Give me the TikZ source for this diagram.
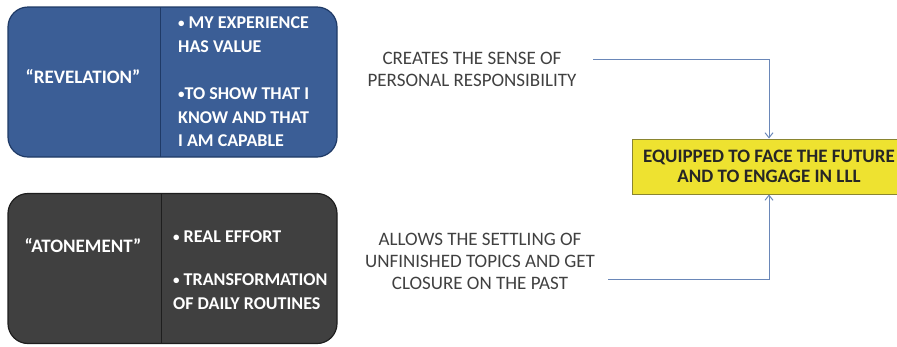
\documentclass[tikz,border=0pt]{standalone}
\usepackage{fontspec}
\setmainfont{Carlito}
\usetikzlibrary{arrows.meta}
\definecolor{boxblue}{HTML}{3B5E96}
\definecolor{boxblueedge}{HTML}{1F3A66}
\definecolor{boxdark}{HTML}{404040}
\definecolor{boxdarkedge}{HTML}{1E1E1E}
\definecolor{eqyellow}{HTML}{EEE230}
\definecolor{eqedge}{HTML}{8A8530}
\definecolor{linkblue}{HTML}{6A87B8}
\definecolor{txtgray}{HTML}{404040}
\newcommand{\bul}{{\fontsize{13}{13}\selectfont\raisebox{1pt}{•}}}
\begin{document}
\begin{tikzpicture}[x=1pt,y=-1pt,
  bigbox/.style={draw, line width=1.2pt, rounded corners=20pt, minimum width=329pt, minimum height=150pt, inner sep=0pt},
  boxtitle/.style={text=white, font=\fontsize{19}{22}\selectfont\bfseries, anchor=center},
  boxlist/.style={text=white, font=\fontsize{18}{23.5}\selectfont\bfseries, align=left, anchor=west, inner sep=0pt},
  divider/.style={line width=1pt},
  note/.style={text=txtgray, font=\fontsize{19}{22}\selectfont, align=center},
  eqbox/.style={draw=eqedge, fill=eqyellow, line width=1pt, minimum width=274pt, minimum height=55pt, inner sep=0pt, font=\fontsize{19}{19.5}\selectfont\bfseries, text=black!85, align=center},
  link/.style={draw=linkblue, line width=1pt, -{Straight Barb[length=5pt,width=8pt]}}
]
\useasboundingbox (0,0) rectangle (897,346);
% Revelation box
\node[bigbox, fill=boxblue, draw=boxblueedge] (rev) at (172.5,82) {};
\draw[divider, draw=boxblueedge] (160,7) -- (160,157);
\node[boxtitle] (revt) at (83,77) {“REVELATION”};
\node[boxlist] (revl) at (178,82) {\bul\ MY EXPERIENCE\\HAS VALUE\\[24pt]\bul TO SHOW THAT I\\KNOW AND THAT\\I AM CAPABLE};
% Atonement box
\node[bigbox, fill=boxdark, draw=boxdarkedge] (ato) at (172.5,268.5) {};
\draw[divider, draw=boxdarkedge] (161,194) -- (161,343);
\node[boxtitle] (atot) at (83,246) {“ATONEMENT”};
\node[boxlist] (atol) at (173,270) {\bul\ REAL EFFORT\\[20pt]\bul\ TRANSFORMATION\\OF DAILY ROUTINES};
% notes
\node[note] (n1) at (472,69) {CREATES THE SENSE OF\\PERSONAL RESPONSIBILITY};
\node[note] (n2) at (480,261) {ALLOWS THE SETTLING OF\\UNFINISHED TOPICS AND GET\\CLOSURE ON THE PAST};
% target
\node[eqbox] (eq) at (769,166.5) {EQUIPPED TO FACE THE FUTURE\\AND TO ENGAGE IN LLL};
% connectors
\coordinate (s1) at (593,59);
\coordinate (s2) at (608,279);
\draw[link] (s1) -| (eq.north);
\draw[link] (s2) -| (eq.south);
\end{tikzpicture}
\end{document}
